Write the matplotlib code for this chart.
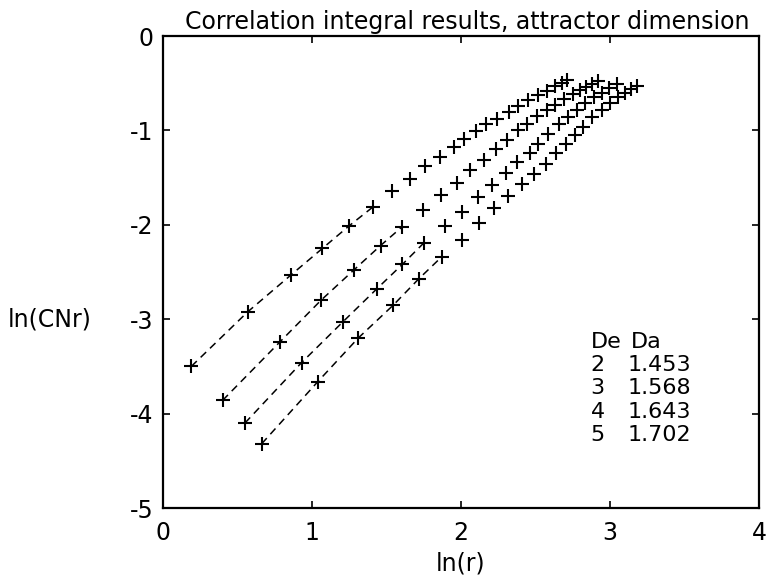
import matplotlib
matplotlib.use("Agg")
import matplotlib.pyplot as plt
import numpy as np

plt.rcParams['font.family'] = ['DejaVu Sans']
plt.rcParams['axes.unicode_minus'] = False

# ---- data ----
x_de2 = [0.19, 0.57, 0.86, 1.07, 1.25, 1.41, 1.54, 1.66, 1.76, 1.86, 1.95, 2.02,
         2.10, 2.17, 2.24, 2.32, 2.385, 2.45, 2.52, 2.575, 2.63, 2.675, 2.71]
y_de2 = [-3.50, -2.92, -2.53, -2.25, -2.01, -1.81, -1.64, -1.51, -1.38, -1.28, -1.18, -1.09,
         -1.01, -0.93, -0.88, -0.80, -0.74, -0.68, -0.625, -0.58, -0.53, -0.495, -0.47]

x_de3 = [0.40, 0.785, 1.06, 1.28, 1.46, 1.606, 1.745, 1.864, 1.97, 2.06, 2.154, 2.235,
         2.31, 2.385, 2.445, 2.51, 2.575, 2.63, 2.69, 2.75, 2.80, 2.84, 2.88, 2.92]
y_de3 = [-3.86, -3.24, -2.80, -2.48, -2.22, -2.02, -1.84, -1.68, -1.56, -1.42, -1.31, -1.20,
         -1.10, -1.00, -0.93, -0.85, -0.78, -0.73, -0.67, -0.61, -0.57, -0.54, -0.51, -0.48]

x_de4 = [0.55, 0.93, 1.206, 1.434, 1.606, 1.752, 1.89, 2.005, 2.116, 2.21, 2.30, 2.378,
         2.46, 2.52, 2.587, 2.66, 2.72, 2.776, 2.83, 2.89, 2.945, 2.995, 3.045]
y_de4 = [-4.10, -3.46, -3.03, -2.68, -2.42, -2.19, -2.01, -1.86, -1.71, -1.58, -1.45, -1.33,
         -1.235, -1.14, -1.04, -0.93, -0.855, -0.78, -0.71, -0.65, -0.60, -0.555, -0.51]

x_de5 = [0.662, 1.04, 1.31, 1.546, 1.715, 1.87, 2.005, 2.12, 2.22, 2.317, 2.407, 2.49,
         2.57, 2.64, 2.705, 2.765, 2.82, 2.88, 2.945, 3.00, 3.055, 3.10, 3.14, 3.18]
y_de5 = [-4.32, -3.66, -3.20, -2.85, -2.575, -2.34, -2.16, -1.98, -1.82, -1.695, -1.57, -1.46,
         -1.355, -1.24, -1.14, -1.05, -0.96, -0.86, -0.78, -0.71, -0.65, -0.60, -0.565, -0.53]

# number of leading points joined by the dashed fit line, per series
n_fit = [6, 6, 6, 6]

de_values = ["2", "3", "4", "5"]
da_values = ["1.453", "1.568", "1.643", "1.702"]

title = "Correlation integral results, attractor dimension"
xticks = [0, 1, 2, 3, 4]
yticks = [0, -1, -2, -3, -4, -5]

# ---- figure ----
W, H = 767, 580
FS = 17
FS_TAB = 16
fig = plt.figure(figsize=(W / 100, H / 100), dpi=100)
ax = fig.add_axes([163 / W, 1 - 508 / H, (759 - 163) / W, (508 - 36) / H])

series = [(x_de2, y_de2), (x_de3, y_de3), (x_de4, y_de4), (x_de5, y_de5)]
for (xs, ys), nf in zip(series, n_fit):
    ax.plot(xs[:nf], ys[:nf], linestyle=(0, (5, 3.5)), color='black', lw=1.1)
    ax.plot(xs, ys, linestyle='none', marker='+', markersize=10,
            markeredgewidth=1.5, color='black')

ax.set_xlim(0, 4)
ax.set_ylim(-5, 0)
ax.set_xticks(xticks)
ax.set_yticks(yticks)
ax.set_xticklabels([str(t) for t in xticks])
ax.set_yticklabels([str(t) for t in yticks])
ax.tick_params(axis='both', direction='in', length=5, width=1.2, top=True, right=True,
               labelsize=FS)
ax.tick_params(axis='x', pad=9)
ax.tick_params(axis='y', pad=7)
for s in ax.spines.values():
    s.set_linewidth(1.6)

ax.set_title(title, fontsize=FS, pad=5, x=0.51)
ax.set_xlabel("ln(r)", fontsize=FS)
ax.xaxis.label.set_va('center')
ax.xaxis.set_label_coords(0.5, -(563 - 508) / (508 - 36))
fig.text(8 / W, 1 - 320 / H, "ln(CNr)", fontsize=FS, ha='left', va='center')

# De / Da table
row_y = [-3.24, -3.48, -3.73, -3.98, -4.23]
ax.text(2.87, row_y[0], "De", fontsize=FS_TAB, ha='left', va='center')
ax.text(3.14, row_y[0], "Da", fontsize=FS_TAB, ha='left', va='center')
for i, (de, da) in enumerate(zip(de_values, da_values)):
    ax.text(2.87, row_y[i + 1], de, fontsize=FS_TAB, ha='left', va='center')
    ax.text(3.12, row_y[i + 1], da, fontsize=FS_TAB, ha='left', va='center')

fig.savefig("out.png", dpi=100)
